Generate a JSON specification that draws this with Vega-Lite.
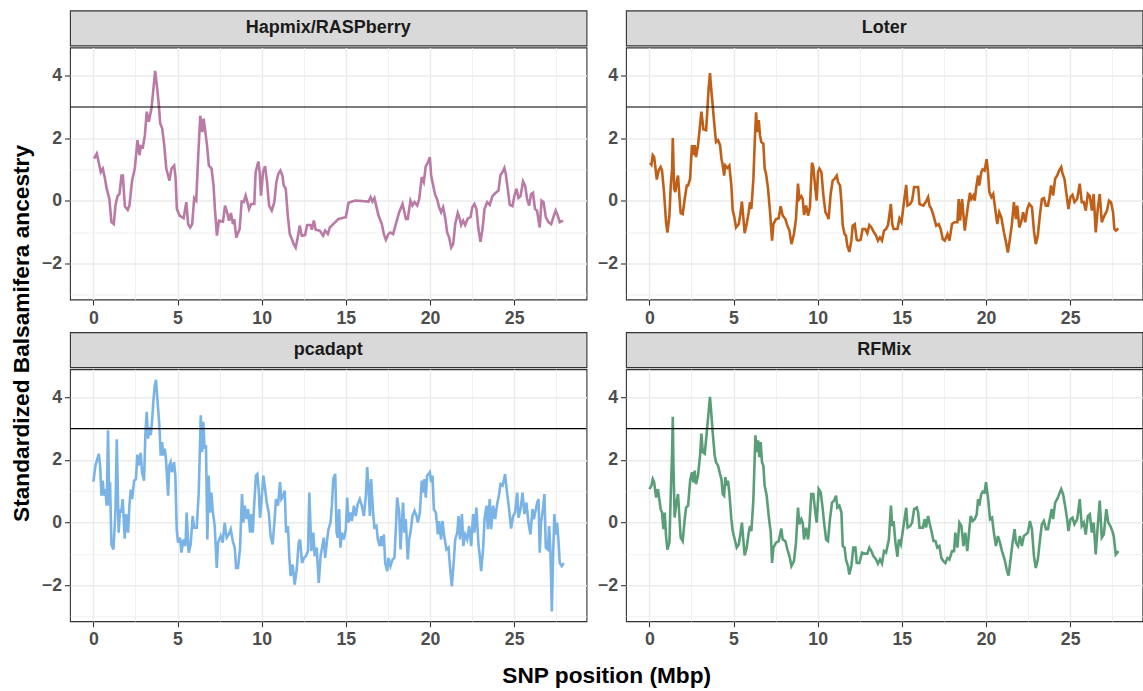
{
"$schema": "https://vega.github.io/schema/vega-lite/v6.json",
"padding": {"left": 10, "top": 9.5, "right": 0, "bottom": 2},
"background": "white",
"datasets": {
"panels": [{"method": "Hapmix/RASPberry"}, {"method": "Loter"}, {"method": "pcadapt"}, {"method": "RFMix"}],
"threshold": [{"z": 3}],
"hapmix": [{"pos":0.04,"z":1.35},{"pos":0.2,"z":1.51},{"pos":0.27,"z":1.35},{"pos":0.44,"z":0.92},{"pos":0.56,"z":1.03},{"pos":0.67,"z":0.76},{"pos":0.79,"z":0.39},{"pos":0.95,"z":0.06},{"pos":1.07,"z":-0.68},{"pos":1.21,"z":-0.74},{"pos":1.31,"z":-0.15},{"pos":1.43,"z":0.15},{"pos":1.55,"z":0.22},{"pos":1.67,"z":0.81},{"pos":1.75,"z":0.81},{"pos":1.87,"z":-0.17},{"pos":2.04,"z":-0.29},{"pos":2.14,"z":-0.15},{"pos":2.3,"z":0.65},{"pos":2.46,"z":1.03},{"pos":2.62,"z":1.94},{"pos":2.74,"z":1.46},{"pos":2.82,"z":1.75},{"pos":2.94,"z":1.72},{"pos":3.06,"z":2.1},{"pos":3.17,"z":2.85},{"pos":3.29,"z":2.53},{"pos":3.45,"z":2.95},{"pos":3.57,"z":3.6},{"pos":3.67,"z":4.15},{"pos":3.77,"z":3.7},{"pos":3.89,"z":3.06},{"pos":3.97,"z":2.47},{"pos":4.09,"z":2.31},{"pos":4.21,"z":1.78},{"pos":4.33,"z":1.03},{"pos":4.52,"z":0.65},{"pos":4.64,"z":1.03},{"pos":4.8,"z":1.13},{"pos":4.88,"z":0.76},{"pos":4.96,"z":-0.26},{"pos":5.12,"z":-0.47},{"pos":5.36,"z":-0.55},{"pos":5.52,"z":-0.04},{"pos":5.63,"z":-0.74},{"pos":5.75,"z":-0.85},{"pos":5.87,"z":-0.74},{"pos":5.99,"z":0.09},{"pos":6.11,"z":0.01},{"pos":6.23,"z":1.46},{"pos":6.35,"z":2.72},{"pos":6.47,"z":2.2},{"pos":6.55,"z":2.63},{"pos":6.63,"z":2.31},{"pos":6.75,"z":1.78},{"pos":6.86,"z":1.13},{"pos":7.02,"z":1.03},{"pos":7.14,"z":0.49},{"pos":7.22,"z":-0.26},{"pos":7.34,"z":-1.11},{"pos":7.46,"z":-0.63},{"pos":7.7,"z":-0.66},{"pos":7.82,"z":-0.15},{"pos":7.94,"z":-0.36},{"pos":8.06,"z":-0.63},{"pos":8.17,"z":-0.39},{"pos":8.29,"z":-0.74},{"pos":8.37,"z":-0.58},{"pos":8.49,"z":-1.17},{"pos":8.69,"z":-0.9},{"pos":8.81,"z":-0.02},{"pos":8.93,"z":-0.04},{"pos":9.05,"z":0.17},{"pos":9.25,"z":-0.26},{"pos":9.37,"z":-0.1},{"pos":9.56,"z":-0.1},{"pos":9.64,"z":0.92},{"pos":9.8,"z":1.26},{"pos":9.88,"z":0.92},{"pos":9.96,"z":0.17},{"pos":10.08,"z":0.92},{"pos":10.2,"z":1.11},{"pos":10.32,"z":0.6},{"pos":10.44,"z":-0.15},{"pos":10.6,"z":-0.31},{"pos":10.75,"z":-0.04},{"pos":10.87,"z":0.6},{"pos":10.99,"z":0.87},{"pos":11.11,"z":0.97},{"pos":11.23,"z":0.81},{"pos":11.31,"z":0.49},{"pos":11.43,"z":0.39},{"pos":11.55,"z":-0.47},{"pos":11.67,"z":-1.06},{"pos":11.79,"z":-1.22},{"pos":11.9,"z":-1.38},{"pos":12.02,"z":-1.49},{"pos":12.14,"z":-1.17},{"pos":12.26,"z":-0.79},{"pos":12.38,"z":-1.11},{"pos":12.58,"z":-1.09},{"pos":12.7,"z":-0.77},{"pos":12.9,"z":-0.77},{"pos":12.98,"z":-0.92},{"pos":13.1,"z":-0.63},{"pos":13.21,"z":-0.92},{"pos":13.45,"z":-0.95},{"pos":13.65,"z":-1.11},{"pos":13.77,"z":-0.95},{"pos":13.93,"z":-1.06},{"pos":14.05,"z":-0.85},{"pos":14.25,"z":-0.74},{"pos":14.56,"z":-0.58},{"pos":15.0,"z":-0.52},{"pos":15.16,"z":-0.06},{"pos":15.55,"z":0.01},{"pos":16.35,"z":-0.02},{"pos":16.47,"z":0.12},{"pos":16.58,"z":-0.02},{"pos":16.7,"z":0.09},{"pos":16.82,"z":-0.2},{"pos":16.94,"z":-0.47},{"pos":17.14,"z":-0.74},{"pos":17.26,"z":-1.06},{"pos":17.38,"z":-1.24},{"pos":17.53,"z":-1.06},{"pos":17.65,"z":-1.01},{"pos":17.81,"z":-1.06},{"pos":17.97,"z":-0.74},{"pos":18.17,"z":-0.36},{"pos":18.37,"z":-0.1},{"pos":18.57,"z":-0.58},{"pos":18.68,"z":-0.58},{"pos":18.84,"z":0.01},{"pos":18.96,"z":-0.15},{"pos":19.08,"z":-0.04},{"pos":19.24,"z":-0.15},{"pos":19.36,"z":0.06},{"pos":19.51,"z":0.76},{"pos":19.63,"z":0.6},{"pos":19.75,"z":1.11},{"pos":19.87,"z":1.22},{"pos":19.99,"z":1.4},{"pos":20.07,"z":0.81},{"pos":20.19,"z":0.49},{"pos":20.31,"z":0.19},{"pos":20.42,"z":0.06},{"pos":20.54,"z":-0.2},{"pos":20.66,"z":-0.36},{"pos":20.78,"z":-0.2},{"pos":20.9,"z":-0.52},{"pos":21.02,"z":-1.01},{"pos":21.14,"z":-1.17},{"pos":21.26,"z":-1.49},{"pos":21.38,"z":-1.38},{"pos":21.5,"z":-0.74},{"pos":21.65,"z":-0.39},{"pos":21.77,"z":-0.58},{"pos":21.85,"z":-0.77},{"pos":21.97,"z":-0.63},{"pos":22.09,"z":-0.77},{"pos":22.25,"z":-0.56},{"pos":22.41,"z":-0.52},{"pos":22.52,"z":-0.2},{"pos":22.64,"z":-0.1},{"pos":22.76,"z":-0.26},{"pos":22.88,"z":-0.9},{"pos":23.0,"z":-1.31},{"pos":23.12,"z":-0.9},{"pos":23.24,"z":-0.26},{"pos":23.4,"z":-0.04},{"pos":23.55,"z":-0.13},{"pos":23.71,"z":0.15},{"pos":23.91,"z":0.26},{"pos":24.07,"z":0.33},{"pos":24.19,"z":0.83},{"pos":24.31,"z":0.92},{"pos":24.42,"z":1.05},{"pos":24.5,"z":0.87},{"pos":24.62,"z":0.39},{"pos":24.74,"z":-0.13},{"pos":24.9,"z":-0.17},{"pos":25.02,"z":0.17},{"pos":25.14,"z":0.39},{"pos":25.26,"z":0.09},{"pos":25.38,"z":0.15},{"pos":25.53,"z":0.62},{"pos":25.65,"z":0.49},{"pos":25.77,"z":0.06},{"pos":25.89,"z":-0.15},{"pos":26.01,"z":0.22},{"pos":26.12,"z":0.26},{"pos":26.24,"z":-0.26},{"pos":26.36,"z":-0.31},{"pos":26.52,"z":-0.85},{"pos":26.63,"z":0.01},{"pos":26.75,"z":-0.04},{"pos":26.88,"z":-0.52},{"pos":27.04,"z":-0.68},{"pos":27.2,"z":-0.74},{"pos":27.36,"z":-0.47},{"pos":27.47,"z":-0.31},{"pos":27.59,"z":-0.47},{"pos":27.71,"z":-0.68},{"pos":27.91,"z":-0.63}],
"loter": [{"pos":0.04,"z":1.22},{"pos":0.12,"z":1.16},{"pos":0.2,"z":1.46},{"pos":0.28,"z":1.4},{"pos":0.36,"z":1.05},{"pos":0.44,"z":0.68},{"pos":0.55,"z":0.97},{"pos":0.67,"z":1.08},{"pos":0.75,"z":0.97},{"pos":0.87,"z":0.28},{"pos":0.99,"z":-0.68},{"pos":1.07,"z":-1.01},{"pos":1.19,"z":-0.47},{"pos":1.27,"z":0.49},{"pos":1.35,"z":1.03},{"pos":1.39,"z":2.01},{"pos":1.47,"z":0.39},{"pos":1.54,"z":0.28},{"pos":1.62,"z":0.6},{"pos":1.7,"z":0.81},{"pos":1.78,"z":0.17},{"pos":1.86,"z":-0.39},{"pos":1.98,"z":-0.42},{"pos":2.1,"z":0.06},{"pos":2.22,"z":0.49},{"pos":2.3,"z":0.49},{"pos":2.42,"z":0.71},{"pos":2.53,"z":1.78},{"pos":2.61,"z":1.46},{"pos":2.69,"z":1.78},{"pos":2.77,"z":1.4},{"pos":2.89,"z":1.78},{"pos":2.97,"z":2.2},{"pos":3.09,"z":2.85},{"pos":3.21,"z":2.29},{"pos":3.37,"z":2.26},{"pos":3.45,"z":2.95},{"pos":3.52,"z":3.6},{"pos":3.6,"z":4.08},{"pos":3.68,"z":3.54},{"pos":3.76,"z":3.06},{"pos":3.88,"z":2.31},{"pos":3.96,"z":1.88},{"pos":4.08,"z":1.94},{"pos":4.2,"z":1.78},{"pos":4.28,"z":1.35},{"pos":4.36,"z":1.13},{"pos":4.44,"z":0.81},{"pos":4.51,"z":1.13},{"pos":4.63,"z":1.05},{"pos":4.75,"z":1.13},{"pos":4.87,"z":0.49},{"pos":4.95,"z":-0.31},{"pos":5.03,"z":-0.47},{"pos":5.15,"z":-0.85},{"pos":5.31,"z":-0.74},{"pos":5.39,"z":-0.47},{"pos":5.5,"z":-0.02},{"pos":5.58,"z":-0.52},{"pos":5.66,"z":-1.03},{"pos":5.78,"z":-0.74},{"pos":5.9,"z":-0.36},{"pos":5.98,"z":-0.04},{"pos":6.06,"z":-0.26},{"pos":6.18,"z":0.71},{"pos":6.26,"z":1.88},{"pos":6.34,"z":2.83},{"pos":6.42,"z":2.2},{"pos":6.5,"z":2.58},{"pos":6.57,"z":2.1},{"pos":6.65,"z":1.88},{"pos":6.77,"z":1.83},{"pos":6.85,"z":1.03},{"pos":6.93,"z":0.87},{"pos":7.05,"z":0.39},{"pos":7.17,"z":-0.36},{"pos":7.29,"z":-1.27},{"pos":7.37,"z":-0.74},{"pos":7.52,"z":-0.58},{"pos":7.68,"z":-0.56},{"pos":7.8,"z":-0.17},{"pos":7.92,"z":-0.47},{"pos":8.08,"z":-0.58},{"pos":8.2,"z":-0.79},{"pos":8.32,"z":-0.95},{"pos":8.44,"z":-1.38},{"pos":8.59,"z":-1.06},{"pos":8.71,"z":-0.58},{"pos":8.83,"z":0.55},{"pos":8.91,"z":0.06},{"pos":9.03,"z":0.15},{"pos":9.11,"z":0.06},{"pos":9.19,"z":-0.45},{"pos":9.31,"z":-0.15},{"pos":9.43,"z":-0.47},{"pos":9.54,"z":-0.2},{"pos":9.66,"z":1.22},{"pos":9.74,"z":1.08},{"pos":9.86,"z":0.39},{"pos":9.94,"z":0.01},{"pos":10.02,"z":0.92},{"pos":10.1,"z":1.03},{"pos":10.22,"z":0.92},{"pos":10.34,"z":0.17},{"pos":10.46,"z":-0.36},{"pos":10.57,"z":-0.47},{"pos":10.65,"z":-0.58},{"pos":10.77,"z":0.22},{"pos":10.89,"z":0.65},{"pos":11.01,"z":0.71},{"pos":11.13,"z":0.81},{"pos":11.21,"z":0.6},{"pos":11.33,"z":0.49},{"pos":11.41,"z":-0.04},{"pos":11.49,"z":-0.79},{"pos":11.6,"z":-1.06},{"pos":11.68,"z":-1.11},{"pos":11.76,"z":-1.43},{"pos":11.88,"z":-1.63},{"pos":12.0,"z":-1.27},{"pos":12.08,"z":-0.79},{"pos":12.2,"z":-0.74},{"pos":12.32,"z":-1.24},{"pos":12.4,"z":-1.27},{"pos":12.55,"z":-1.24},{"pos":12.67,"z":-0.9},{"pos":12.83,"z":-0.9},{"pos":12.95,"z":-1.03},{"pos":13.07,"z":-0.77},{"pos":13.19,"z":-0.85},{"pos":13.35,"z":-1.01},{"pos":13.47,"z":-1.11},{"pos":13.58,"z":-1.27},{"pos":13.7,"z":-1.17},{"pos":13.82,"z":-1.27},{"pos":13.94,"z":-0.95},{"pos":14.06,"z":-0.9},{"pos":14.18,"z":-0.77},{"pos":14.35,"z":-0.1},{"pos":14.43,"z":-0.74},{"pos":14.51,"z":-0.9},{"pos":14.74,"z":-0.9},{"pos":14.86,"z":-0.56},{"pos":14.98,"z":-0.68},{"pos":15.1,"z":-0.15},{"pos":15.26,"z":0.51},{"pos":15.34,"z":-0.15},{"pos":15.49,"z":-0.1},{"pos":15.61,"z":0.01},{"pos":15.73,"z":0.44},{"pos":15.97,"z":0.44},{"pos":16.05,"z":-0.1},{"pos":16.28,"z":-0.15},{"pos":16.44,"z":-0.02},{"pos":16.56,"z":0.12},{"pos":16.64,"z":-0.15},{"pos":16.76,"z":-0.26},{"pos":16.88,"z":-0.47},{"pos":17.04,"z":-0.79},{"pos":17.19,"z":-0.74},{"pos":17.31,"z":-0.9},{"pos":17.43,"z":-1.22},{"pos":17.55,"z":-1.27},{"pos":17.71,"z":-1.06},{"pos":17.83,"z":-1.27},{"pos":17.98,"z":-0.74},{"pos":18.14,"z":-0.68},{"pos":18.3,"z":-0.68},{"pos":18.38,"z":0.06},{"pos":18.46,"z":-0.63},{"pos":18.58,"z":0.06},{"pos":18.74,"z":-0.95},{"pos":18.85,"z":-0.47},{"pos":18.93,"z":-0.15},{"pos":19.05,"z":0.26},{"pos":19.13,"z":0.06},{"pos":19.25,"z":0.17},{"pos":19.33,"z":0.01},{"pos":19.41,"z":0.39},{"pos":19.53,"z":0.81},{"pos":19.6,"z":0.49},{"pos":19.72,"z":0.92},{"pos":19.8,"z":1.01},{"pos":19.92,"z":0.97},{"pos":20.04,"z":1.33},{"pos":20.12,"z":0.92},{"pos":20.2,"z":0.28},{"pos":20.32,"z":0.12},{"pos":20.43,"z":0.22},{"pos":20.55,"z":-0.26},{"pos":20.67,"z":-0.74},{"pos":20.79,"z":-0.36},{"pos":20.91,"z":-0.52},{"pos":21.07,"z":-1.01},{"pos":21.19,"z":-1.33},{"pos":21.3,"z":-1.65},{"pos":21.42,"z":-1.22},{"pos":21.54,"z":-0.74},{"pos":21.66,"z":-0.04},{"pos":21.78,"z":-0.58},{"pos":21.86,"z":-0.15},{"pos":21.98,"z":-0.85},{"pos":22.09,"z":-0.68},{"pos":22.21,"z":-0.36},{"pos":22.33,"z":-0.68},{"pos":22.45,"z":-0.26},{"pos":22.57,"z":-0.1},{"pos":22.73,"z":-0.2},{"pos":22.85,"z":-0.95},{"pos":22.96,"z":-1.38},{"pos":23.08,"z":-1.11},{"pos":23.2,"z":-0.47},{"pos":23.32,"z":0.06},{"pos":23.44,"z":0.09},{"pos":23.56,"z":-0.15},{"pos":23.68,"z":-0.15},{"pos":23.76,"z":0.06},{"pos":23.87,"z":0.49},{"pos":23.99,"z":0.17},{"pos":24.11,"z":0.71},{"pos":24.23,"z":0.81},{"pos":24.35,"z":0.97},{"pos":24.47,"z":1.08},{"pos":24.55,"z":0.87},{"pos":24.66,"z":0.71},{"pos":24.78,"z":0.22},{"pos":24.9,"z":-0.26},{"pos":25.02,"z":0.12},{"pos":25.14,"z":0.19},{"pos":25.26,"z":-0.04},{"pos":25.42,"z":0.06},{"pos":25.57,"z":0.55},{"pos":25.69,"z":-0.04},{"pos":25.81,"z":-0.04},{"pos":25.93,"z":-0.31},{"pos":26.05,"z":0.22},{"pos":26.17,"z":0.15},{"pos":26.29,"z":-0.31},{"pos":26.4,"z":0.22},{"pos":26.52,"z":-1.01},{"pos":26.64,"z":-0.26},{"pos":26.76,"z":0.22},{"pos":26.88,"z":-0.68},{"pos":27.04,"z":-0.47},{"pos":27.19,"z":-0.31},{"pos":27.31,"z":0.01},{"pos":27.43,"z":-0.04},{"pos":27.55,"z":-0.36},{"pos":27.63,"z":-0.9},{"pos":27.71,"z":-0.95},{"pos":27.87,"z":-0.88}],
"pcadapt": [{"pos":0,"z":1.31},{"pos":0.12,"z":1.82},{"pos":0.24,"z":2.04},{"pos":0.32,"z":2.2},{"pos":0.4,"z":1.82},{"pos":0.48,"z":0.86},{"pos":0.55,"z":1.34},{"pos":0.63,"z":0.86},{"pos":0.71,"z":1.07},{"pos":0.79,"z":0.54},{"pos":0.87,"z":2.95},{"pos":0.95,"z":0.54},{"pos":0.99,"z":1.29},{"pos":1.07,"z":-0.7},{"pos":1.19,"z":-0.86},{"pos":1.31,"z":0.32},{"pos":1.39,"z":2.66},{"pos":1.5,"z":-0.32},{"pos":1.58,"z":0.43},{"pos":1.66,"z":0.32},{"pos":1.74,"z":0.75},{"pos":1.86,"z":-0.51},{"pos":1.94,"z":0.27},{"pos":2.06,"z":-0.32},{"pos":2.14,"z":0.54},{"pos":2.22,"z":1.05},{"pos":2.3,"z":0.75},{"pos":2.42,"z":1.34},{"pos":2.53,"z":1.39},{"pos":2.61,"z":2.17},{"pos":2.69,"z":1.82},{"pos":2.81,"z":2.23},{"pos":2.89,"z":1.61},{"pos":3.01,"z":1.34},{"pos":3.09,"z":2.84},{"pos":3.17,"z":3.54},{"pos":3.25,"z":2.68},{"pos":3.33,"z":3.05},{"pos":3.41,"z":2.79},{"pos":3.49,"z":3.27},{"pos":3.56,"z":3.86},{"pos":3.64,"z":4.34},{"pos":3.72,"z":4.56},{"pos":3.8,"z":3.97},{"pos":3.92,"z":3.11},{"pos":4.0,"z":2.14},{"pos":4.08,"z":2.57},{"pos":4.16,"z":2.14},{"pos":4.24,"z":2.36},{"pos":4.32,"z":1.98},{"pos":4.44,"z":0.86},{"pos":4.51,"z":1.82},{"pos":4.59,"z":1.93},{"pos":4.67,"z":1.61},{"pos":4.79,"z":1.93},{"pos":4.87,"z":1.5},{"pos":4.95,"z":-0.21},{"pos":5.03,"z":-0.64},{"pos":5.15,"z":-0.48},{"pos":5.23,"z":-0.96},{"pos":5.35,"z":-0.54},{"pos":5.47,"z":-0.75},{"pos":5.54,"z":0.32},{"pos":5.66,"z":-0.96},{"pos":5.78,"z":-0.7},{"pos":5.9,"z":0.21},{"pos":5.98,"z":-0.16},{"pos":6.14,"z":-0.16},{"pos":6.26,"z":0.96},{"pos":6.38,"z":3.43},{"pos":6.46,"z":2.25},{"pos":6.53,"z":3.22},{"pos":6.61,"z":2.36},{"pos":6.69,"z":2.47},{"pos":6.77,"z":-0.54},{"pos":6.85,"z":1.5},{"pos":6.93,"z":0.32},{"pos":7.01,"z":0.96},{"pos":7.09,"z":0.38},{"pos":7.21,"z":-0.11},{"pos":7.33,"z":-1.45},{"pos":7.41,"z":-0.64},{"pos":7.56,"z":-0.43},{"pos":7.68,"z":-0.64},{"pos":7.8,"z":0.0},{"pos":7.92,"z":-0.48},{"pos":8.04,"z":-0.38},{"pos":8.16,"z":-0.21},{"pos":8.28,"z":-0.59},{"pos":8.4,"z":-0.8},{"pos":8.48,"z":-1.45},{"pos":8.59,"z":-1.45},{"pos":8.71,"z":-0.86},{"pos":8.83,"z":0.91},{"pos":8.91,"z":0.0},{"pos":8.99,"z":0.54},{"pos":9.11,"z":0.11},{"pos":9.19,"z":0.43},{"pos":9.31,"z":-0.32},{"pos":9.39,"z":0.27},{"pos":9.47,"z":-0.32},{"pos":9.54,"z":0.43},{"pos":9.66,"z":1.5},{"pos":9.74,"z":1.55},{"pos":9.82,"z":1.07},{"pos":9.9,"z":0.16},{"pos":9.98,"z":0.64},{"pos":10.1,"z":1.5},{"pos":10.18,"z":1.18},{"pos":10.3,"z":0.64},{"pos":10.42,"z":0.32},{"pos":10.53,"z":-0.43},{"pos":10.65,"z":-0.7},{"pos":10.77,"z":0.11},{"pos":10.85,"z":0.75},{"pos":10.97,"z":0.54},{"pos":11.09,"z":1.29},{"pos":11.17,"z":0.75},{"pos":11.29,"z":0.86},{"pos":11.37,"z":1.02},{"pos":11.45,"z":-0.32},{"pos":11.56,"z":-0.11},{"pos":11.64,"z":-1.07},{"pos":11.72,"z":-1.71},{"pos":11.84,"z":-1.34},{"pos":11.96,"z":-1.98},{"pos":12.08,"z":-1.5},{"pos":12.2,"z":-0.64},{"pos":12.28,"z":-0.54},{"pos":12.4,"z":-1.29},{"pos":12.51,"z":-1.13},{"pos":12.63,"z":-1.07},{"pos":12.75,"z":-0.91},{"pos":12.83,"z":0.96},{"pos":12.95,"z":-0.91},{"pos":13.07,"z":-0.32},{"pos":13.15,"z":-1.07},{"pos":13.27,"z":-0.8},{"pos":13.39,"z":-1.93},{"pos":13.5,"z":-1.07},{"pos":13.69,"z":-0.48},{"pos":13.77,"z":-1.13},{"pos":13.89,"z":-0.54},{"pos":13.97,"z":-0.21},{"pos":14.09,"z":0.0},{"pos":14.17,"z":0.54},{"pos":14.25,"z":1.39},{"pos":14.37,"z":1.55},{"pos":14.45,"z":-0.32},{"pos":14.52,"z":-0.48},{"pos":14.6,"z":0.43},{"pos":14.68,"z":-0.8},{"pos":14.76,"z":-0.32},{"pos":14.88,"z":-0.54},{"pos":15.0,"z":-0.21},{"pos":15.08,"z":0.8},{"pos":15.16,"z":0.0},{"pos":15.28,"z":0.32},{"pos":15.36,"z":0.05},{"pos":15.48,"z":0.54},{"pos":15.59,"z":0.21},{"pos":15.71,"z":0.59},{"pos":15.83,"z":0.75},{"pos":15.95,"z":0.54},{"pos":16.07,"z":0.21},{"pos":16.19,"z":0.86},{"pos":16.27,"z":1.77},{"pos":16.35,"z":1.07},{"pos":16.43,"z":0.21},{"pos":16.5,"z":1.39},{"pos":16.62,"z":0.32},{"pos":16.7,"z":-0.16},{"pos":16.82,"z":-0.11},{"pos":16.9,"z":-0.54},{"pos":17.02,"z":-0.75},{"pos":17.1,"z":-0.43},{"pos":17.18,"z":-0.75},{"pos":17.26,"z":-0.38},{"pos":17.34,"z":-1.29},{"pos":17.46,"z":-1.55},{"pos":17.53,"z":-1.13},{"pos":17.65,"z":-1.39},{"pos":17.77,"z":-1.18},{"pos":17.89,"z":-1.13},{"pos":17.97,"z":-0.21},{"pos":18.05,"z":0.8},{"pos":18.17,"z":0.32},{"pos":18.25,"z":-0.86},{"pos":18.33,"z":0.0},{"pos":18.4,"z":0.64},{"pos":18.48,"z":-0.32},{"pos":18.56,"z":0.11},{"pos":18.68,"z":-1.18},{"pos":18.76,"z":-0.54},{"pos":18.84,"z":-0.32},{"pos":18.96,"z":0.21},{"pos":19.08,"z":0.38},{"pos":19.2,"z":0.21},{"pos":19.28,"z":0.0},{"pos":19.4,"z":0.32},{"pos":19.51,"z":1.34},{"pos":19.59,"z":0.96},{"pos":19.67,"z":1.39},{"pos":19.75,"z":0.8},{"pos":19.83,"z":1.5},{"pos":19.91,"z":1.55},{"pos":19.99,"z":1.61},{"pos":20.07,"z":1.29},{"pos":20.15,"z":1.5},{"pos":20.23,"z":0.43},{"pos":20.35,"z":0.32},{"pos":20.47,"z":-0.38},{"pos":20.54,"z":0.05},{"pos":20.66,"z":-0.54},{"pos":20.74,"z":0.05},{"pos":20.86,"z":-0.48},{"pos":20.98,"z":-0.86},{"pos":21.1,"z":-0.8},{"pos":21.22,"z":-1.61},{"pos":21.3,"z":-2.04},{"pos":21.42,"z":-1.18},{"pos":21.5,"z":-0.54},{"pos":21.62,"z":-0.32},{"pos":21.7,"z":0.21},{"pos":21.78,"z":-0.54},{"pos":21.9,"z":0.27},{"pos":21.98,"z":-0.75},{"pos":22.09,"z":-0.38},{"pos":22.21,"z":-0.54},{"pos":22.33,"z":-0.11},{"pos":22.45,"z":-0.75},{"pos":22.56,"z":0.27},{"pos":22.64,"z":-0.32},{"pos":22.76,"z":0.48},{"pos":22.88,"z":-0.7},{"pos":22.96,"z":-1.07},{"pos":23.04,"z":-1.55},{"pos":23.16,"z":-0.8},{"pos":23.24,"z":0.11},{"pos":23.36,"z":0.54},{"pos":23.44,"z":-0.21},{"pos":23.55,"z":0.75},{"pos":23.63,"z":-0.21},{"pos":23.75,"z":0.54},{"pos":23.87,"z":0.11},{"pos":23.99,"z":0.59},{"pos":24.11,"z":0.91},{"pos":24.19,"z":1.23},{"pos":24.31,"z":1.18},{"pos":24.39,"z":1.34},{"pos":24.46,"z":1.55},{"pos":24.58,"z":0.96},{"pos":24.7,"z":0.43},{"pos":24.82,"z":-0.19},{"pos":24.94,"z":0.21},{"pos":25.06,"z":0.32},{"pos":25.18,"z":0.96},{"pos":25.26,"z":0.16},{"pos":25.38,"z":0.43},{"pos":25.5,"z":0.96},{"pos":25.61,"z":0.27},{"pos":25.73,"z":0.64},{"pos":25.85,"z":0.0},{"pos":25.97,"z":-0.38},{"pos":26.09,"z":0.43},{"pos":26.17,"z":0.11},{"pos":26.25,"z":0.32},{"pos":26.37,"z":0.64},{"pos":26.45,"z":0.75},{"pos":26.52,"z":-0.96},{"pos":26.6,"z":0.0},{"pos":26.72,"z":0.48},{"pos":26.8,"z":0.91},{"pos":26.88,"z":-0.8},{"pos":27.0,"z":-0.86},{"pos":27.08,"z":-0.11},{"pos":27.16,"z":-0.96},{"pos":27.24,"z":-2.84},{"pos":27.31,"z":-1.18},{"pos":27.39,"z":0.27},{"pos":27.47,"z":-0.38},{"pos":27.55,"z":0.0},{"pos":27.63,"z":-0.54},{"pos":27.71,"z":-1.29},{"pos":27.83,"z":-1.39},{"pos":27.95,"z":-1.29}],
"rfmix": [{"pos":0,"z":1.07},{"pos":0.12,"z":1.18},{"pos":0.2,"z":1.39},{"pos":0.28,"z":1.29},{"pos":0.4,"z":0.8},{"pos":0.51,"z":1.07},{"pos":0.59,"z":0.75},{"pos":0.67,"z":0.43},{"pos":0.75,"z":0.32},{"pos":0.83,"z":-0.21},{"pos":0.91,"z":0.32},{"pos":0.99,"z":-0.43},{"pos":1.07,"z":-0.86},{"pos":1.19,"z":-0.64},{"pos":1.27,"z":0.91},{"pos":1.35,"z":2.25},{"pos":1.39,"z":3.38},{"pos":1.43,"z":1.82},{"pos":1.5,"z":0.16},{"pos":1.58,"z":0.54},{"pos":1.7,"z":0.91},{"pos":1.78,"z":0.21},{"pos":1.86,"z":-0.48},{"pos":1.98,"z":-0.59},{"pos":2.1,"z":0.11},{"pos":2.18,"z":0.48},{"pos":2.3,"z":0.54},{"pos":2.42,"z":1.34},{"pos":2.53,"z":1.61},{"pos":2.61,"z":1.29},{"pos":2.69,"z":1.66},{"pos":2.77,"z":1.23},{"pos":2.89,"z":1.5},{"pos":3.01,"z":2.14},{"pos":3.09,"z":2.84},{"pos":3.17,"z":2.25},{"pos":3.29,"z":2.2},{"pos":3.41,"z":2.89},{"pos":3.52,"z":3.54},{"pos":3.6,"z":4.02},{"pos":3.68,"z":3.48},{"pos":3.76,"z":2.89},{"pos":3.88,"z":2.14},{"pos":3.96,"z":1.93},{"pos":4.08,"z":1.82},{"pos":4.2,"z":1.55},{"pos":4.28,"z":1.39},{"pos":4.36,"z":0.91},{"pos":4.44,"z":0.86},{"pos":4.51,"z":1.45},{"pos":4.59,"z":1.18},{"pos":4.67,"z":1.34},{"pos":4.75,"z":0.96},{"pos":4.87,"z":0.11},{"pos":4.95,"z":-0.27},{"pos":5.07,"z":-0.54},{"pos":5.19,"z":-0.8},{"pos":5.31,"z":-0.7},{"pos":5.39,"z":-0.43},{"pos":5.5,"z":0.0},{"pos":5.58,"z":-0.54},{"pos":5.66,"z":-1.05},{"pos":5.78,"z":-0.8},{"pos":5.9,"z":-0.32},{"pos":5.98,"z":-0.11},{"pos":6.06,"z":-0.27},{"pos":6.18,"z":0.75},{"pos":6.3,"z":2.79},{"pos":6.38,"z":2.25},{"pos":6.46,"z":2.63},{"pos":6.53,"z":2.09},{"pos":6.61,"z":2.57},{"pos":6.69,"z":1.93},{"pos":6.77,"z":1.82},{"pos":6.85,"z":1.18},{"pos":6.97,"z":0.86},{"pos":7.09,"z":0.21},{"pos":7.21,"z":-0.32},{"pos":7.29,"z":-1.29},{"pos":7.37,"z":-0.8},{"pos":7.52,"z":-0.64},{"pos":7.68,"z":-0.59},{"pos":7.84,"z":-0.19},{"pos":7.92,"z":-0.54},{"pos":8.08,"z":-0.59},{"pos":8.2,"z":-0.86},{"pos":8.32,"z":-1.07},{"pos":8.44,"z":-1.39},{"pos":8.59,"z":-1.23},{"pos":8.71,"z":-0.64},{"pos":8.83,"z":0.48},{"pos":8.91,"z":-0.05},{"pos":9.03,"z":0.11},{"pos":9.11,"z":0.0},{"pos":9.19,"z":-0.54},{"pos":9.31,"z":-0.16},{"pos":9.43,"z":-0.54},{"pos":9.5,"z":-0.16},{"pos":9.62,"z":0.91},{"pos":9.74,"z":0.91},{"pos":9.86,"z":0.32},{"pos":9.94,"z":0.0},{"pos":10.06,"z":1.07},{"pos":10.18,"z":0.96},{"pos":10.3,"z":0.43},{"pos":10.38,"z":0.0},{"pos":10.5,"z":-0.54},{"pos":10.61,"z":-0.59},{"pos":10.73,"z":0.11},{"pos":10.85,"z":0.64},{"pos":10.97,"z":0.7},{"pos":11.09,"z":0.86},{"pos":11.17,"z":0.48},{"pos":11.29,"z":0.54},{"pos":11.41,"z":0.32},{"pos":11.49,"z":-0.75},{"pos":11.6,"z":-0.8},{"pos":11.68,"z":-1.18},{"pos":11.8,"z":-1.39},{"pos":11.88,"z":-1.66},{"pos":12.0,"z":-1.39},{"pos":12.12,"z":-0.8},{"pos":12.24,"z":-0.8},{"pos":12.32,"z":-1.29},{"pos":12.48,"z":-1.29},{"pos":12.63,"z":-0.96},{"pos":12.79,"z":-0.99},{"pos":12.95,"z":-0.99},{"pos":13.07,"z":-0.8},{"pos":13.19,"z":-0.91},{"pos":13.31,"z":-1.07},{"pos":13.47,"z":-1.18},{"pos":13.58,"z":-1.31},{"pos":13.7,"z":-1.18},{"pos":13.82,"z":-1.31},{"pos":13.94,"z":-0.91},{"pos":14.06,"z":-0.96},{"pos":14.23,"z":-0.54},{"pos":14.35,"z":0.54},{"pos":14.43,"z":-0.11},{"pos":14.51,"z":0.05},{"pos":14.62,"z":-0.64},{"pos":14.74,"z":-1.09},{"pos":14.82,"z":-0.54},{"pos":14.94,"z":-0.7},{"pos":15.1,"z":-0.11},{"pos":15.26,"z":0.48},{"pos":15.34,"z":-0.16},{"pos":15.49,"z":-0.11},{"pos":15.61,"z":0.0},{"pos":15.73,"z":0.43},{"pos":15.89,"z":0.48},{"pos":15.97,"z":0.32},{"pos":16.05,"z":-0.16},{"pos":16.25,"z":-0.16},{"pos":16.36,"z":0.11},{"pos":16.44,"z":-0.16},{"pos":16.56,"z":0.21},{"pos":16.64,"z":0.0},{"pos":16.76,"z":-0.27},{"pos":16.88,"z":-0.59},{"pos":17.0,"z":-0.59},{"pos":17.11,"z":-0.8},{"pos":17.23,"z":-0.75},{"pos":17.35,"z":-1.13},{"pos":17.47,"z":-1.23},{"pos":17.59,"z":-1.29},{"pos":17.71,"z":-1.13},{"pos":17.83,"z":-1.18},{"pos":17.98,"z":-0.91},{"pos":18.1,"z":-0.91},{"pos":18.18,"z":-0.32},{"pos":18.3,"z":-0.8},{"pos":18.42,"z":0.0},{"pos":18.54,"z":-0.11},{"pos":18.66,"z":-0.75},{"pos":18.77,"z":-0.32},{"pos":18.89,"z":-0.91},{"pos":19.01,"z":-0.21},{"pos":19.09,"z":0.21},{"pos":19.21,"z":0.05},{"pos":19.33,"z":0.11},{"pos":19.45,"z":0.27},{"pos":19.53,"z":0.75},{"pos":19.6,"z":0.54},{"pos":19.72,"z":0.91},{"pos":19.8,"z":0.99},{"pos":19.92,"z":0.96},{"pos":20.0,"z":1.29},{"pos":20.12,"z":0.8},{"pos":20.24,"z":0.11},{"pos":20.36,"z":0.16},{"pos":20.47,"z":-0.32},{"pos":20.59,"z":-0.75},{"pos":20.71,"z":-0.43},{"pos":20.83,"z":-0.64},{"pos":20.95,"z":-0.91},{"pos":21.11,"z":-1.18},{"pos":21.23,"z":-1.5},{"pos":21.34,"z":-1.69},{"pos":21.46,"z":-1.18},{"pos":21.58,"z":-0.64},{"pos":21.7,"z":-0.21},{"pos":21.78,"z":-0.64},{"pos":21.9,"z":-0.75},{"pos":22.02,"z":-0.43},{"pos":22.13,"z":-0.75},{"pos":22.25,"z":-0.43},{"pos":22.37,"z":-0.38},{"pos":22.49,"z":-0.32},{"pos":22.61,"z":0.05},{"pos":22.73,"z":-0.21},{"pos":22.85,"z":-1.07},{"pos":22.96,"z":-1.45},{"pos":23.08,"z":-1.18},{"pos":23.2,"z":-0.59},{"pos":23.32,"z":-0.05},{"pos":23.44,"z":0.05},{"pos":23.56,"z":-0.21},{"pos":23.68,"z":-0.21},{"pos":23.79,"z":0.11},{"pos":23.91,"z":0.43},{"pos":23.99,"z":0.11},{"pos":24.11,"z":0.64},{"pos":24.23,"z":0.75},{"pos":24.35,"z":0.91},{"pos":24.47,"z":1.07},{"pos":24.58,"z":0.91},{"pos":24.7,"z":0.54},{"pos":24.82,"z":0.11},{"pos":24.9,"z":-0.27},{"pos":25.02,"z":0.11},{"pos":25.14,"z":0.16},{"pos":25.26,"z":-0.05},{"pos":25.42,"z":0.11},{"pos":25.57,"z":0.75},{"pos":25.69,"z":-0.11},{"pos":25.81,"z":0.0},{"pos":25.93,"z":-0.38},{"pos":26.05,"z":0.21},{"pos":26.17,"z":0.27},{"pos":26.29,"z":-0.32},{"pos":26.4,"z":0.0},{"pos":26.52,"z":-1.02},{"pos":26.64,"z":-0.11},{"pos":26.76,"z":0.7},{"pos":26.88,"z":-0.48},{"pos":27.0,"z":-0.38},{"pos":27.15,"z":0.43},{"pos":27.27,"z":0.0},{"pos":27.39,"z":-0.11},{"pos":27.51,"z":-0.27},{"pos":27.59,"z":-0.43},{"pos":27.71,"z":-1.02},{"pos":27.87,"z":-0.91}]
},
"config": {
"view": {"stroke": "#333333", "strokeWidth": 1.1},
"axis": {"domain": false, "grid": true, "gridColor": "#EBEBEB", "tickColor": "#333333", "tickWidth": 1.1, "tickSize": 5.5, "labelFont": "Liberation Sans", "labelFontSize": 17.7, "labelFontWeight": "bold", "labelColor": "#4D4D4D", "labelOverlap": false, "labelFlush": false, "labelBound": false},
"axisX": {"labelPadding": 4},
"axisY": {"labelPadding": 3},
"title": {"font": "Liberation Sans", "fontSize": 22.7, "fontWeight": "bold", "color": "#000000"}
},
"title": {"text": "SNP position (Mbp)", "orient": "bottom", "anchor": "middle", "offset": 16.5, "dx": 29.5},
"vconcat": [
{
"title": {"text": "Standardized Balsamifera ancestry", "orient": "left", "anchor": "middle", "offset": 7.3, "dx": -4},
"spacing": 3.7,
"vconcat": [
{"spacing": 8, "hconcat": [
{"spacing": 0, "vconcat": [
 {"width": 516.5, "height": 35, "data": {"name": "panels"}, "transform": [{"filter": "datum.method === 'Hapmix/RASPberry'"}], "view": {"fill": "#D9D9D9", "stroke": "#333333", "strokeWidth": 1.1}, "mark": {"type": "text", "font": "Liberation Sans", "fontSize": 18, "fontWeight": "bold", "color": "#1A1A1A", "align": "center", "baseline": "middle"}, "encoding": {"text": {"field": "method", "type": "nominal"}}},
 {"width": 516.5, "height": 252, "resolve": {"axis": {"y": "independent"}}, "layer": [
  {"data": {"name": "hapmix"}, "mark": {"type": "line", "color": "#B97AA6", "strokeWidth": 2.6}, "encoding": {
   "x": {"field": "pos", "type": "quantitative", "scale": {"domain": [-1.39, 29.3], "nice": false, "zero": false}, "axis": {"title": null, "values": [0,2.5,5,7.5,10,12.5,15,17.5,20,22.5,25,27.5], "labelExpr": "datum.value % 5 === 0 ? datum.label : ''", "tickOpacity": {"condition": {"test": "datum.value % 5 !== 0", "value": 0}, "value": 1}, "gridWidth": {"condition": {"test": "datum.value % 5 !== 0", "value": 0.7}, "value": 1.4}}},
   "y": {"field": "z", "type": "quantitative", "scale": {"domain": [-3.15, 4.9], "nice": false, "zero": false}, "axis": {"title": null, "orient": "left", "values": [-2,0,2,4], "gridWidth": 1.4}}}},
  {"data": {"name": "threshold"}, "mark": {"type": "rule", "color": "#000000", "strokeWidth": 1.2}, "encoding": {"y": {"field": "z", "type": "quantitative", "axis": {"title": null, "orient": "left", "values": [-3,-1,1,3], "labels": false, "ticks": false, "domain": false, "grid": true, "gridWidth": 0.7}}}}
 ]}
]},
{"spacing": 0, "vconcat": [
 {"width": 516.5, "height": 35, "data": {"name": "panels"}, "transform": [{"filter": "datum.method === 'Loter'"}], "view": {"fill": "#D9D9D9", "stroke": "#333333", "strokeWidth": 1.1}, "mark": {"type": "text", "font": "Liberation Sans", "fontSize": 18, "fontWeight": "bold", "color": "#1A1A1A", "align": "center", "baseline": "middle"}, "encoding": {"text": {"field": "method", "type": "nominal"}}},
 {"width": 516.5, "height": 252, "resolve": {"axis": {"y": "independent"}}, "layer": [
  {"data": {"name": "loter"}, "mark": {"type": "line", "color": "#BF5F18", "strokeWidth": 2.6}, "encoding": {
   "x": {"field": "pos", "type": "quantitative", "scale": {"domain": [-1.39, 29.3], "nice": false, "zero": false}, "axis": {"title": null, "values": [0,2.5,5,7.5,10,12.5,15,17.5,20,22.5,25,27.5], "labelExpr": "datum.value % 5 === 0 ? datum.label : ''", "tickOpacity": {"condition": {"test": "datum.value % 5 !== 0", "value": 0}, "value": 1}, "gridWidth": {"condition": {"test": "datum.value % 5 !== 0", "value": 0.7}, "value": 1.4}}},
   "y": {"field": "z", "type": "quantitative", "scale": {"domain": [-3.15, 4.9], "nice": false, "zero": false}, "axis": {"title": null, "orient": "left", "values": [-2,0,2,4], "gridWidth": 1.4}}}},
  {"data": {"name": "threshold"}, "mark": {"type": "rule", "color": "#000000", "strokeWidth": 1.2}, "encoding": {"y": {"field": "z", "type": "quantitative", "axis": {"title": null, "orient": "left", "values": [-3,-1,1,3], "labels": false, "ticks": false, "domain": false, "grid": true, "gridWidth": 0.7}}}}
 ]}
]}
]},
{"spacing": 8, "hconcat": [
{"spacing": 0, "vconcat": [
 {"width": 516.5, "height": 35, "data": {"name": "panels"}, "transform": [{"filter": "datum.method === 'pcadapt'"}], "view": {"fill": "#D9D9D9", "stroke": "#333333", "strokeWidth": 1.1}, "mark": {"type": "text", "font": "Liberation Sans", "fontSize": 18, "fontWeight": "bold", "color": "#1A1A1A", "align": "center", "baseline": "middle"}, "encoding": {"text": {"field": "method", "type": "nominal"}}},
 {"width": 516.5, "height": 252, "resolve": {"axis": {"y": "independent"}}, "layer": [
  {"data": {"name": "pcadapt"}, "mark": {"type": "line", "color": "#7AB3E6", "strokeWidth": 2.6}, "encoding": {
   "x": {"field": "pos", "type": "quantitative", "scale": {"domain": [-1.39, 29.3], "nice": false, "zero": false}, "axis": {"title": null, "values": [0,2.5,5,7.5,10,12.5,15,17.5,20,22.5,25,27.5], "labelExpr": "datum.value % 5 === 0 ? datum.label : ''", "tickOpacity": {"condition": {"test": "datum.value % 5 !== 0", "value": 0}, "value": 1}, "gridWidth": {"condition": {"test": "datum.value % 5 !== 0", "value": 0.7}, "value": 1.4}}},
   "y": {"field": "z", "type": "quantitative", "scale": {"domain": [-3.15, 4.9], "nice": false, "zero": false}, "axis": {"title": null, "orient": "left", "values": [-2,0,2,4], "gridWidth": 1.4}}}},
  {"data": {"name": "threshold"}, "mark": {"type": "rule", "color": "#000000", "strokeWidth": 1.2}, "encoding": {"y": {"field": "z", "type": "quantitative", "axis": {"title": null, "orient": "left", "values": [-3,-1,1,3], "labels": false, "ticks": false, "domain": false, "grid": true, "gridWidth": 0.7}}}}
 ]}
]},
{"spacing": 0, "vconcat": [
 {"width": 516.5, "height": 35, "data": {"name": "panels"}, "transform": [{"filter": "datum.method === 'RFMix'"}], "view": {"fill": "#D9D9D9", "stroke": "#333333", "strokeWidth": 1.1}, "mark": {"type": "text", "font": "Liberation Sans", "fontSize": 18, "fontWeight": "bold", "color": "#1A1A1A", "align": "center", "baseline": "middle"}, "encoding": {"text": {"field": "method", "type": "nominal"}}},
 {"width": 516.5, "height": 252, "resolve": {"axis": {"y": "independent"}}, "layer": [
  {"data": {"name": "rfmix"}, "mark": {"type": "line", "color": "#5A9E78", "strokeWidth": 2.6}, "encoding": {
   "x": {"field": "pos", "type": "quantitative", "scale": {"domain": [-1.39, 29.3], "nice": false, "zero": false}, "axis": {"title": null, "values": [0,2.5,5,7.5,10,12.5,15,17.5,20,22.5,25,27.5], "labelExpr": "datum.value % 5 === 0 ? datum.label : ''", "tickOpacity": {"condition": {"test": "datum.value % 5 !== 0", "value": 0}, "value": 1}, "gridWidth": {"condition": {"test": "datum.value % 5 !== 0", "value": 0.7}, "value": 1.4}}},
   "y": {"field": "z", "type": "quantitative", "scale": {"domain": [-3.15, 4.9], "nice": false, "zero": false}, "axis": {"title": null, "orient": "left", "values": [-2,0,2,4], "gridWidth": 1.4}}}},
  {"data": {"name": "threshold"}, "mark": {"type": "rule", "color": "#000000", "strokeWidth": 1.2}, "encoding": {"y": {"field": "z", "type": "quantitative", "axis": {"title": null, "orient": "left", "values": [-3,-1,1,3], "labels": false, "ticks": false, "domain": false, "grid": true, "gridWidth": 0.7}}}}
 ]}
]}
]}
]
}
]
}
